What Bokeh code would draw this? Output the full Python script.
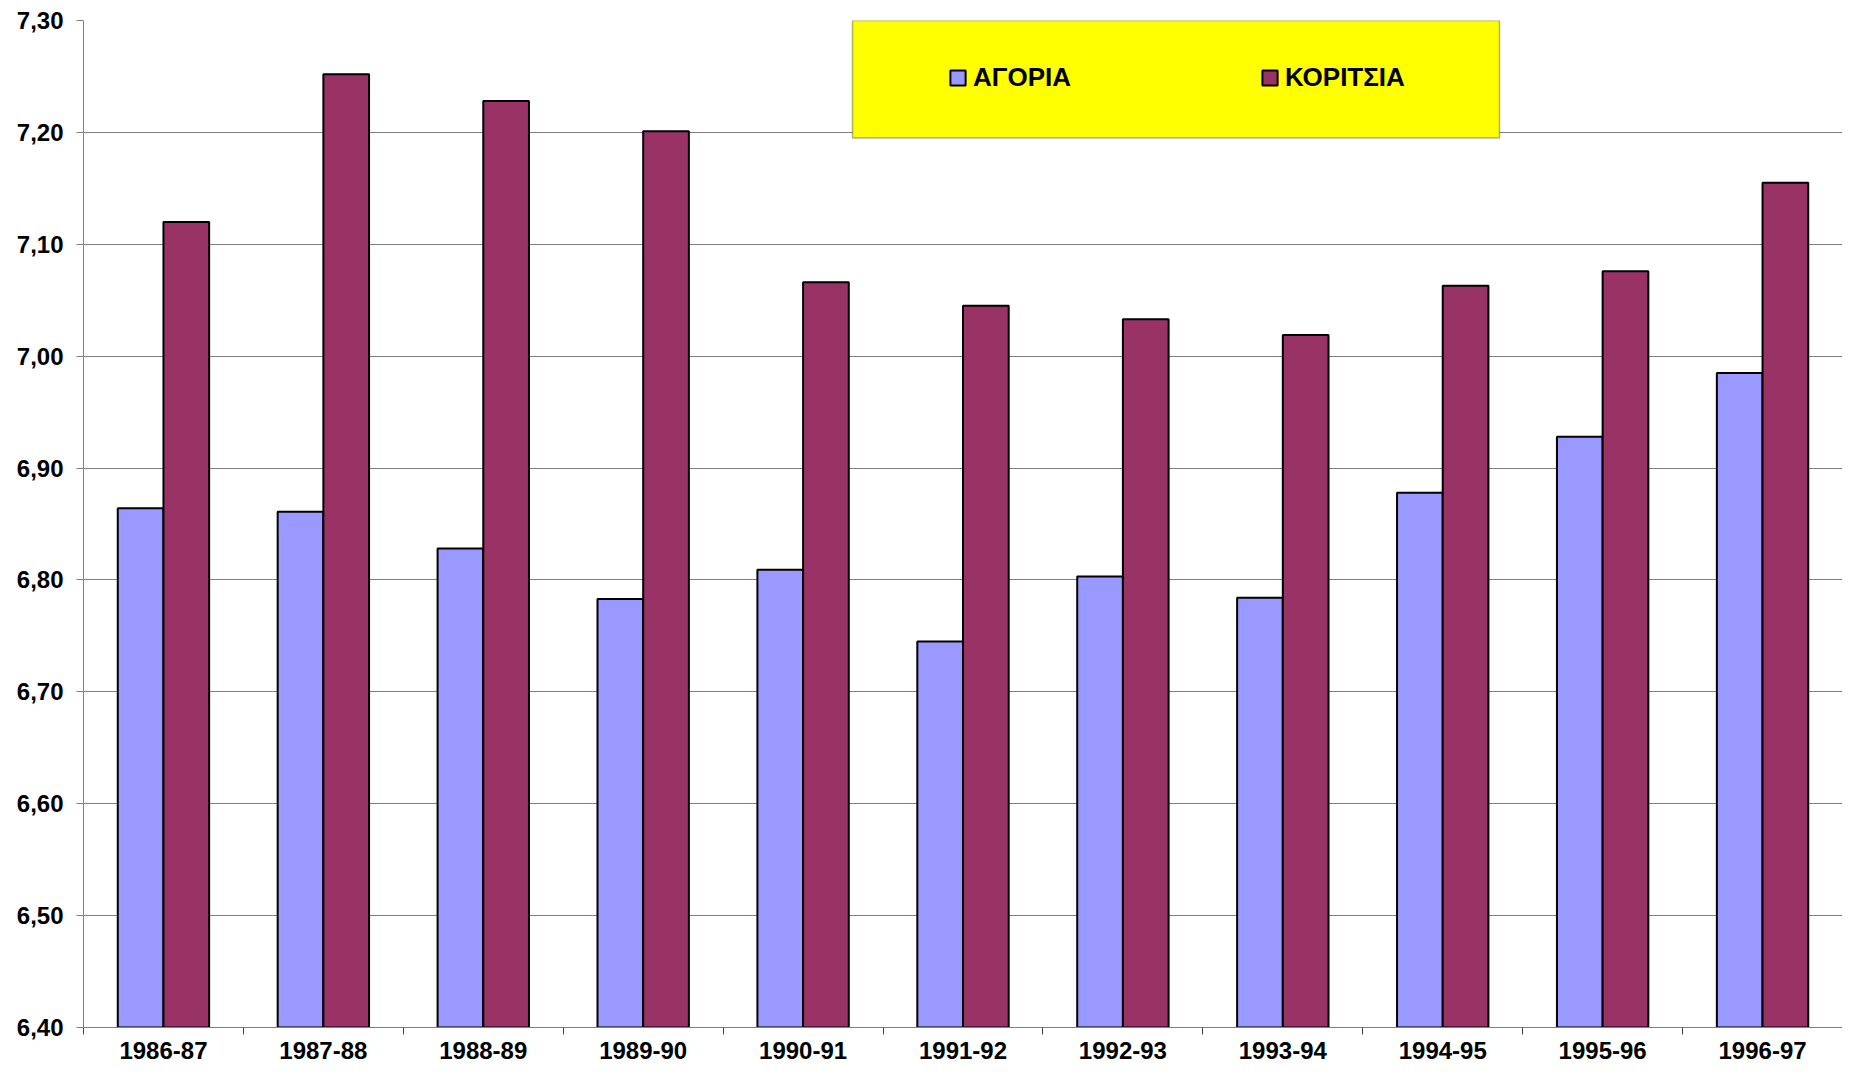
import numpy as np
from bokeh.plotting import figure
from bokeh.models import (Range1d, FixedTicker, CustomJSTickFormatter, BoxAnnotation,
                          Legend, LegendItem, ColumnDataSource)
from bokeh.embed import file_html
from bokeh.resources import INLINE

# ---- data ----
seasons = ["1986-87", "1987-88", "1988-89", "1989-90", "1990-91", "1991-92",
           "1992-93", "1993-94", "1994-95", "1995-96", "1996-97"]
boys = [6.864, 6.861, 6.828, 6.783, 6.809, 6.745, 6.803, 6.784, 6.878, 6.928, 6.985]
girls = [7.120, 7.252, 7.228, 7.201, 7.066, 7.045, 7.033, 7.019, 7.063, 7.076, 7.155]
series_names = ["ΑΓΟΡΙΑ", "ΚΟΡΙΤΣΙΑ"]
y_ticks = [6.40, 6.50, 6.60, 6.70, 6.80, 6.90, 7.00, 7.10, 7.20, 7.30]

# ---- styling ----
FONT = "Liberation Sans"
BLUE = "#9999FF"
PLUM = "#993366"
GRID = "#808080"

n = len(seasons)
centers = np.arange(n) + 0.5
bar_w = 1 / 3.5

src = ColumnDataSource(dict(
    xb=centers - bar_w / 2,
    xg=centers + bar_w / 2,
    boys=boys,
    girls=girls,
))

p = figure(width=1842, height=1062, output_backend="svg", toolbar_location=None,
           x_range=Range1d(0, n), y_range=Range1d(y_ticks[0], y_ticks[-1]),
           min_border_left=83, min_border_right=0, min_border_top=20, min_border_bottom=35)
p.outline_line_color = None
p.background_fill_color = "white"
p.border_fill_color = "white"

rb = p.vbar(x="xb", top="boys", bottom=y_ticks[0], width=bar_w, source=src,
            fill_color=BLUE, line_color="black", line_width=2)
rg = p.vbar(x="xg", top="girls", bottom=y_ticks[0], width=bar_w, source=src,
            fill_color=PLUM, line_color="black", line_width=2)

# grid
p.xgrid.visible = False
p.ygrid.grid_line_color = GRID
p.ygrid.grid_line_width = 1
p.yaxis.ticker = FixedTicker(ticks=y_ticks)

# y axis
p.yaxis.formatter = CustomJSTickFormatter(code="return tick.toFixed(2).replace('.', ',');")
p.yaxis.axis_line_color = GRID
p.yaxis.major_tick_out = 7
p.yaxis.major_tick_in = 0
p.yaxis.major_tick_line_color = GRID
p.yaxis.minor_tick_line_color = None
p.yaxis.major_label_standoff = 13
p.yaxis.major_label_text_font = FONT
p.yaxis.major_label_text_font_style = "bold"
p.yaxis.major_label_text_font_size = "24px"
p.yaxis.major_label_text_color = "black"

# x axis: labels at centres, tick marks between categories
p.xaxis.ticker = FixedTicker(ticks=list(centers), minor_ticks=list(range(n + 1)))
p.xaxis.formatter = CustomJSTickFormatter(args=dict(labels=seasons),
                                          code="return labels[Math.round(tick - 0.5)];")
p.xaxis.axis_line_color = GRID
p.xaxis.major_tick_out = 0
p.xaxis.major_tick_in = 0
p.xaxis.minor_tick_out = 7
p.xaxis.minor_tick_in = 0
p.xaxis.minor_tick_line_color = "#404040"
p.xaxis.major_label_standoff = 7
p.xaxis.major_label_text_font = FONT
p.xaxis.major_label_text_font_style = "bold"
p.xaxis.major_label_text_font_size = "24px"
p.xaxis.major_label_text_color = "black"

# legend box (yellow)
box = BoxAnnotation(left=4.809, right=8.855, top=7.30, bottom=7.195,
                    fill_color="#FFFF00", fill_alpha=1.0,
                    line_color="black", line_width=1.5)
p.add_layout(box)

legend = Legend(items=[LegendItem(label=series_names[0], renderers=[rb]),
                       LegendItem(label=series_names[1], renderers=[rg])],
                orientation="horizontal", location=(865, 934),
                padding=0, margin=0, spacing=189, label_standoff=6,
                glyph_width=19, glyph_height=19, label_height=30,
                label_text_font=FONT, label_text_font_style="bold",
                label_text_font_size="26px", label_text_color="black",
                background_fill_alpha=0, border_line_alpha=0)
p.add_layout(legend)

open("out.html", "w").write(file_html(p, INLINE))
